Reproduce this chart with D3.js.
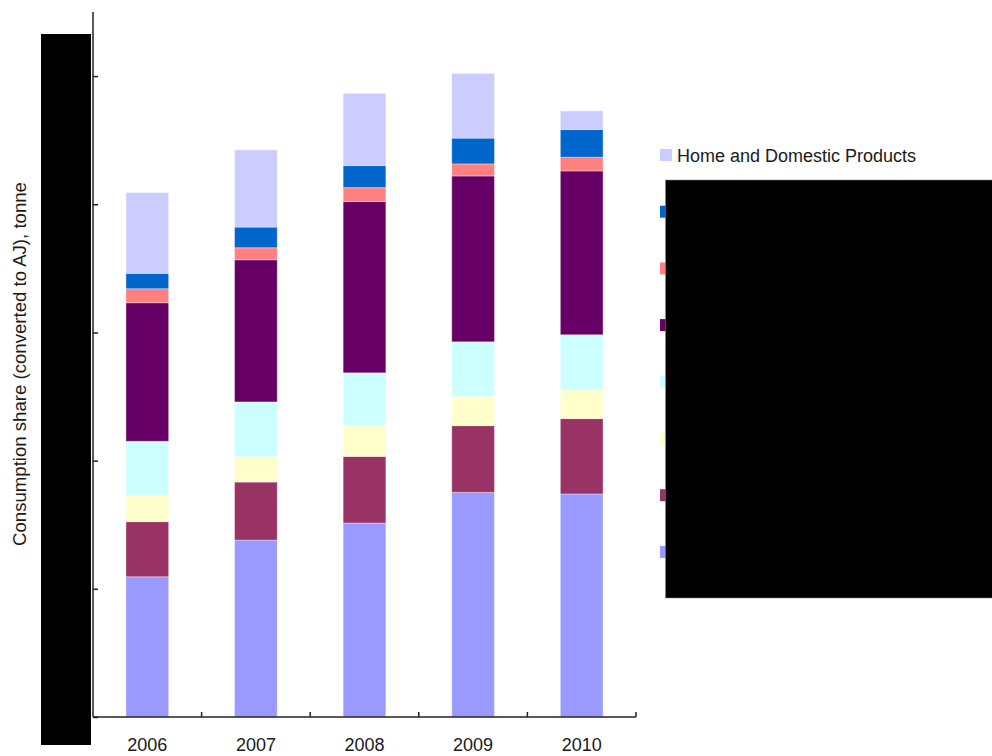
<!DOCTYPE html>
<html>
<head>
<meta charset="utf-8">
<script src="https://cdn.jsdelivr.net/npm/d3@7"></script>
<style>
  body { margin: 0; background: #fff; }
  svg { display: block; }
  text { font-family: "Liberation Sans", Arial, sans-serif; fill: #1a1a1a; }
</style>
</head>
<body>
<svg id="chart" width="992" height="756"></svg>
<script>
// ---- data (bottom of stack first) ----
const years = ["2006", "2007", "2008", "2009", "2010"];
const seriesKeys = ["s1", "s2", "s3", "s4", "s5", "s6", "s7", "s8"];
// legend labels; all but the top one are redacted in the reference
const seriesLabels = ["", "", "", "", "", "", "", "Home and Domestic Products"];
const seriesColors = ["#9999FF", "#993366", "#FFFFCC", "#CCFFFF", "#660066", "#FF8080", "#0066CC", "#CCCCFF"];
const s1 = [1094, 1380, 1513, 1752, 1740];
const s2 = [430, 453, 520, 521, 588];
const s3 = [203, 198, 240, 227, 224];
const s4 = [424, 427, 412, 427, 430];
const s5 = [1081, 1109, 1336, 1294, 1278];
const s6 = [109, 94, 109, 94, 107];
const s7 = [120, 161, 172, 201, 216];
const s8 = [630, 602, 563, 505, 145];
const seriesValues = [s1, s2, s3, s4, s5, s6, s7, s8];
const yTicks = [0, 1000, 2000, 3000, 4000, 5000];
const yMax = 5500;
const yTitle = "Consumption share (converted to AJ), tonne";

(function () {
// ---- layout ----
const svg = d3.select("#chart");
const pL = 93, pR = 636, pT = 12, pB = 717;

const rows = years.map((yr, i) => {
  const r = { year: yr };
  seriesKeys.forEach((k, j) => r[k] = seriesValues[j][i]);
  return r;
});
const stacked = d3.stack().keys(seriesKeys)(rows);

const x = d3.scaleBand().domain(years).range([pL, pR]).padding(0);
const y = d3.scaleLinear().domain([0, yMax]).range([pB, pT]);
const barW = x.bandwidth() * 0.393;

// bars
svg.append("g").selectAll("g")
  .data(stacked)
  .join("g")
  .attr("fill", (d, i) => seriesColors[i])
  .selectAll("rect")
  .data(d => d)
  .join("rect")
  .attr("x", d => x(d.data.year) + (x.bandwidth() - barW) / 2)
  .attr("width", barW)
  .attr("y", d => y(d[1]))
  .attr("height", d => y(d[0]) - y(d[1]))
  .attr("stroke", "rgba(255,255,255,0.35)")
  .attr("stroke-width", 1);

// y axis (ticks inward)
const yAxis = svg.append("g")
  .attr("transform", `translate(${pL},0)`)
  .call(d3.axisRight(y).tickValues(yTicks).tickSize(5).tickFormat(""));
yAxis.select(".domain").attr("d", `M0,${pT}V${pB}`).attr("stroke", "#222").attr("stroke-width", 1.5);
yAxis.selectAll(".tick line").attr("stroke", "#222").attr("stroke-width", 1.5);

// x axis (ticks inward at band edges)
const xAxisG = svg.append("g").attr("transform", `translate(0,${pB})`);
xAxisG.append("line").attr("x1", pL).attr("x2", pR).attr("y1", 0).attr("y2", 0)
  .attr("stroke", "#222").attr("stroke-width", 1.5);
xAxisG.selectAll("line.tk")
  .data(years.slice(1).concat(["end"]))
  .join("line").attr("class", "tk")
  .attr("x1", d => d === "end" ? pR : x(d))
  .attr("x2", d => d === "end" ? pR : x(d))
  .attr("y1", 0).attr("y2", -5)
  .attr("stroke", "#222").attr("stroke-width", 1.5);
xAxisG.selectAll("text")
  .data(years)
  .join("text")
  .attr("x", d => x(d) + x.bandwidth() / 2)
  .attr("y", 34)
  .attr("text-anchor", "middle")
  .style("font-size", "18px")
  .text(d => d);

// y title
svg.append("text")
  .attr("transform", `translate(26,364) rotate(-90)`)
  .attr("text-anchor", "middle")
  .style("font-size", "18.6px")
  .text(yTitle);

// legend (top series first)
const legend = svg.append("g");
const order = d3.range(seriesKeys.length).reverse();
order.forEach((si, idx) => {
  const ly = 155 + idx * 56.7;
  legend.append("rect")
    .attr("x", 660).attr("y", ly - 6).attr("width", 12).attr("height", 12)
    .attr("fill", seriesColors[si]);
  if (seriesLabels[si]) {
    legend.append("text")
      .attr("x", 677).attr("y", ly + 6.5)
      .style("font-size", "18px")
      .text(seriesLabels[si]);
  }
});

// redaction boxes present in the reference
svg.append("rect").attr("x", 41).attr("y", 34).attr("width", 50).attr("height", 711).attr("fill", "#000");
svg.append("rect").attr("x", 665.5).attr("y", 180).attr("width", 327).attr("height", 418).attr("fill", "#000")
  .attr("stroke", "#888").attr("stroke-width", 0.5);
})();
</script>
</body>
</html>
